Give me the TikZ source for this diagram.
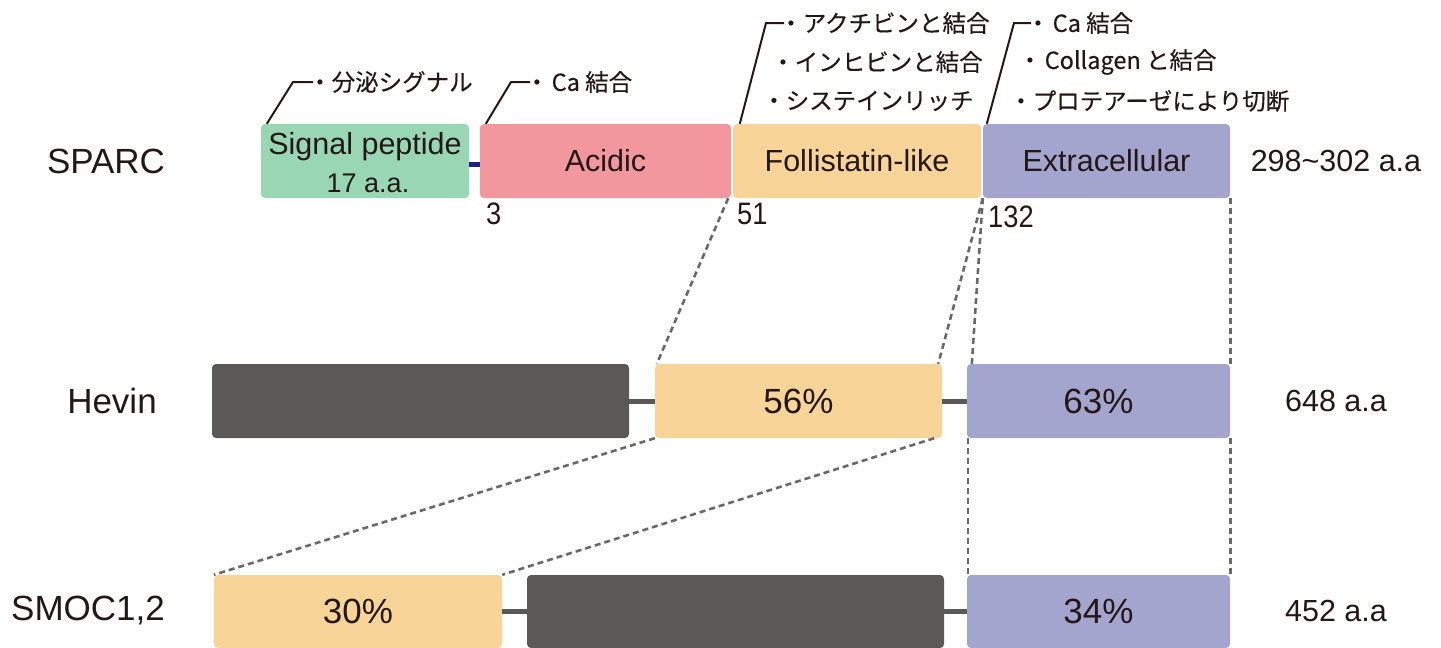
\documentclass[tikz,border=0pt]{standalone}
\usepackage{fontspec}
\setmainfont{Liberation Sans}
\newfontfamily\jp[FakeBold=0.3]{Noto Sans CJK JP}
\newfontfamily\narrowfont[FakeStretch=0.88]{Liberation Sans}
\definecolor{txt}{HTML}{231815}
\definecolor{cgreen}{RGB}{153,214,180}
\definecolor{cpink}{RGB}{242,151,158}
\definecolor{cpeach}{RGB}{248,212,153}
\definecolor{clav}{RGB}{164,165,207}
\definecolor{cdark}{RGB}{90,89,87}
\definecolor{cnavy}{HTML}{1D2088}
\definecolor{cdash}{RGB}{105,105,105}
\begin{document}
\begin{tikzpicture}[x=1pt,y=-1pt,
  box/.style={draw=none,rounded corners=4pt,inner sep=0pt,minimum height=74pt,text=txt,font=\fontsize{30.5}{36}\selectfont},
  pct/.style={box,font=\fontsize{35}{40}\selectfont},
  rowlab/.style={text=txt,inner sep=0pt,font=\fontsize{35}{40}\selectfont},
  sidelab/.style={text=txt,inner sep=0pt,font=\fontsize{30.5}{36}\selectfont},
  numlab/.style={text=txt,inner sep=0pt,anchor=north west,font=\narrowfont\fontsize{31}{34}\selectfont},
  anno/.style={text=txt,inner sep=0pt,anchor=west,font=\jp\fontsize{23.5}{28}\selectfont},
  leader/.style={draw=txt,line width=2pt},
  link/.style={draw=cdark,line width=5pt},
  navylink/.style={draw=cnavy,line width=5pt},
  simdash/.style={draw=cdash,line width=2.6pt,dash pattern=on 6pt off 4pt}
]
\useasboundingbox (0,0) rectangle (1441,648);

% row labels
\node[rowlab] (lsparc) at (106,161) {SPARC};
\node[rowlab] (lhevin) at (112,401) {Hevin};
\node[rowlab] (lsmoc) at (88,611) {SMOC1,2};

% SPARC row
\node[box,fill=cgreen,minimum width=208pt] (sig) at (365,161) {};
\node[text=txt,inner sep=0pt,anchor=base,font=\fontsize{30.5}{36}\selectfont] (sigt1) at (365,154) {Signal peptide};
\node[text=txt,inner sep=0pt,anchor=base,font=\fontsize{27}{32}\selectfont] (sigt2) at (368,192) {17 a.a.};
\node[box,fill=cpink,minimum width=251pt] (acid) at (605.5,161) {Acidic};
\node[box,fill=cpeach,minimum width=248pt] (foll) at (857,161) {Follistatin-like};
\node[box,fill=clav,minimum width=247pt] (extr) at (1106.5,161) {Extracellular};
\draw[navylink] ([yshift=-3pt]sig.east) -- ([yshift=-3pt]acid.west);

% Hevin row
\node[box,fill=cdark,minimum width=417pt] (hdark) at (420.5,401) {};
\node[pct,fill=cpeach,minimum width=287pt] (hfoll) at (798.5,401) {56\%};
\node[pct,fill=clav,minimum width=263pt] (hextr) at (1098.5,401) {63\%};
\draw[link] (hdark.east) -- (hfoll.west);
\draw[link] (hfoll.east) -- (hextr.west);

% SMOC row
\node[pct,fill=cpeach,minimum width=288pt,minimum height=73pt] (sfoll) at (358,611.5) {30\%};
\node[box,fill=cdark,minimum width=417pt,minimum height=73pt] (sdark) at (735.5,611.5) {};
\node[pct,fill=clav,minimum width=263pt,minimum height=73pt] (sextr) at (1098.5,611.5) {34\%};
\draw[link] (sfoll.east) -- (sdark.west);
\draw[link] (sdark.east) -- (sextr.west);

% side labels
\node[sidelab] (rsparc) at (1336,161) {298\textasciitilde302 a.a};
\node[sidelab] (rhevin) at (1336,401) {648 a.a};
\node[sidelab] (rsmoc) at (1336,611) {452 a.a};

% residue numbers
\node[numlab] (n3) at (486,203) {3};
\node[numlab] (n51) at (737,203) {51};
\node[numlab] (n132) at (988,206) {132};

% similarity lines
\draw[simdash] ([xshift=-3pt]acid.south east) -- ([xshift=2pt]hfoll.north west);
\draw[simdash] (extr.south west) -- ([xshift=-4pt]hfoll.north east);
\draw[simdash] (extr.south west) -- ([xshift=5pt]hextr.north west);
\draw[simdash] (extr.south east) -- (hextr.north east);
\draw[simdash] (hfoll.south west) -- (sfoll.north west);
\draw[simdash] ([xshift=-8pt]hfoll.south east) -- (sfoll.north east);
\draw[simdash] ([xshift=1pt]hextr.south west) -- ([xshift=1pt]sextr.north west);
\draw[simdash] (hextr.south east) -- (sextr.north east);

% annotations
\node[anno] (a1) at (308,82) {・分泌シグナル};
\node[anno] (a2) at (525,82) {・\hspace{3pt}Ca 結合};
\node[anno] (f1) at (779,23) {・アクチビンと結合};
\node[anno] (f2) at (771,62) {・インヒビンと結合};
\node[anno] (f3) at (762,101) {・システインリッチ};
\node[anno] (e1) at (1026,23) {・\hspace{3pt}Ca 結合};
\node[anno] (e2) at (1018,62) {・\hspace{3pt}Collagen と結合};
\node[anno] (e3) at (1009,101) {・プロテアーゼにより切断};

\coordinate (k1) at (293,82);
\coordinate (k2) at (511,82);
\coordinate (k3) at (766,23);
\coordinate (k4) at (1014,23);
\draw[leader] ([xshift=6pt]sig.north west) -- (k1) -- ([xshift=5pt]a1.west);
\draw[leader] ([xshift=6pt]acid.north west) -- (k2) -- ([xshift=5pt]a2.west);
\draw[leader] ([xshift=7pt]foll.north west) -- (k3) -- ([xshift=5pt]f1.west);
\draw[leader] ([xshift=4pt]extr.north west) -- (k4) -- ([xshift=5pt]e1.west);
\end{tikzpicture}
\end{document}
